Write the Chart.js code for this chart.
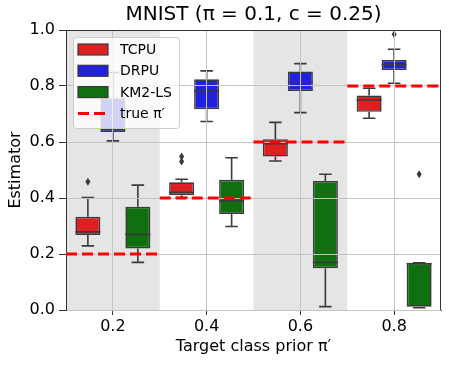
<!DOCTYPE html>
<html>
<head>
<meta charset="utf-8">
<script src="https://cdn.jsdelivr.net/npm/chart.js@4/dist/chart.umd.min.js"></script>
<style>
html,body{margin:0;padding:0;background:#fff;}
#wrap{width:449px;height:366px;}
</style>
</head>
<body>
<div id="wrap"><canvas id="c" width="449" height="366"></canvas></div>
<script>
// ---- data ----
const categories = ['0.2', '0.4', '0.6', '0.8'];
const truePrior = [0.2, 0.4, 0.6, 0.8];
const yTicks = [0.0, 0.2, 0.4, 0.6, 0.8, 1.0];
const seriesNames = ['TCPU', 'DRPU', 'KM2-LS'];

const tcpuMin = [0.229, 0.402, 0.532, 0.685];
const tcpuQ1  = [0.268, 0.410, 0.548, 0.708];
const tcpuMed = [0.279, 0.420, 0.594, 0.750];
const tcpuQ3  = [0.333, 0.456, 0.610, 0.766];
const tcpuMax = [0.402, 0.467, 0.670, 0.792];
const tcpuOut = [[0.458], [0.530, 0.548], [], []];

const drpuMin = [0.604, 0.673, 0.705, 0.810];
const drpuQ1  = [0.636, 0.717, 0.782, 0.857];
const drpuMed = [0.690, 0.782, 0.815, 0.876];
const drpuQ3  = [0.756, 0.824, 0.852, 0.893];
const drpuMax = [0.848, 0.854, 0.880, 0.931];
const drpuOut = [[], [], [], [0.985]];

const kmMin = [0.170, 0.298, 0.012, 0.008];
const kmQ1  = [0.220, 0.343, 0.149, 0.012];
const kmMed = [0.270, 0.389, 0.170, 0.165];
const kmQ3  = [0.369, 0.465, 0.461, 0.169];
const kmMax = [0.446, 0.544, 0.485, 0.169];
const kmOut = [[], [], [], [0.485]];

const shadedCategories = [0, 2];

// ---- styling ----
const FONT = "'DejaVu Sans', sans-serif";
const EDGE = '#3a3a3a';
const COLORS = ['#df2020', '#2020df', '#107010'];

const stats = [
  {min: tcpuMin, q1: tcpuQ1, med: tcpuMed, q3: tcpuQ3, max: tcpuMax, out: tcpuOut},
  {min: drpuMin, q1: drpuQ1, med: drpuMed, q3: drpuQ3, max: drpuMax, out: drpuOut},
  {min: kmMin, q1: kmQ1, med: kmMed, q3: kmQ3, max: kmMax, out: kmOut}
];

const datasets = stats.map((s, k) => ({
  label: seriesNames[k],
  data: s.q1.map((v, i) => [v, s.q3[i]]),
  backgroundColor: COLORS[k],
  borderColor: EDGE,
  borderWidth: 1.6,
  borderSkipped: false,
  categoryPercentage: 0.8,
  barPercentage: 1.0
}));

const boxPlugin = {
  id: 'boxExtras',
  beforeDatasetsDraw(chart) {
    const {ctx, chartArea: a, scales: {x}} = chart;
    const half = (x.getPixelForValue(1) - x.getPixelForValue(0)) / 2;
    ctx.save();
    ctx.fillStyle = '#e5e5e5';
    shadedCategories.forEach(i => {
      const cx = x.getPixelForValue(i);
      ctx.fillRect(cx - half, a.top, 2 * half, a.bottom - a.top);
    });
    ctx.restore();
  },
  afterDatasetsDraw(chart) {
    const {ctx, scales: {y}} = chart;
    ctx.save();
    ctx.strokeStyle = EDGE;
    ctx.lineWidth = 1.6;
    stats.forEach((s, k) => {
      const meta = chart.getDatasetMeta(k);
      meta.data.forEach((el, i) => {
        const cx = el.x, w = el.width;
        const py = v => y.getPixelForValue(v);
        ctx.beginPath();
        ctx.moveTo(cx, py(s.q3[i])); ctx.lineTo(cx, py(s.max[i]));
        ctx.moveTo(cx, py(s.q1[i])); ctx.lineTo(cx, py(s.min[i]));
        ctx.moveTo(cx - w / 4, py(s.max[i])); ctx.lineTo(cx + w / 4, py(s.max[i]));
        ctx.moveTo(cx - w / 4, py(s.min[i])); ctx.lineTo(cx + w / 4, py(s.min[i]));
        ctx.moveTo(cx - w / 2, py(s.med[i])); ctx.lineTo(cx + w / 2, py(s.med[i]));
        ctx.stroke();
        ctx.fillStyle = EDGE;
        s.out[i].forEach(v => {
          const oy = py(v);
          ctx.beginPath();
          ctx.moveTo(cx, oy - 4); ctx.lineTo(cx + 2.5, oy);
          ctx.lineTo(cx, oy + 4); ctx.lineTo(cx - 2.5, oy);
          ctx.closePath();
          ctx.fill();
        });
      });
    });
    ctx.restore();
  },
  afterDraw(chart) {
    const {ctx, chartArea: a, scales: {x, y}} = chart;
    ctx.save();
    // true prior dashed segments (above grid)
    const half = (x.getPixelForValue(1) - x.getPixelForValue(0)) / 2;
    ctx.strokeStyle = '#ff0000';
    ctx.lineWidth = 3;
    ctx.setLineDash([11, 5]);
    truePrior.forEach((v, i) => {
      const cx = x.getPixelForValue(i);
      const yy = y.getPixelForValue(v);
      ctx.beginPath();
      ctx.moveTo(cx - half, yy); ctx.lineTo(cx + half, yy);
      ctx.stroke();
    });
    ctx.setLineDash([]);
    // frame (top/right spines)
    ctx.strokeStyle = '#333';
    ctx.lineWidth = 1;
    ctx.beginPath();
    ctx.moveTo(a.left, a.top + 0.5); ctx.lineTo(a.right, a.top + 0.5);
    ctx.moveTo(a.right - 0.5, a.top); ctx.lineTo(a.right - 0.5, a.bottom);
    ctx.stroke();
    // legend
    const lx = a.left + 7, ly = a.top + 7, lw = 106, lh = 91;
    ctx.beginPath();
    ctx.roundRect(lx + 0.5, ly + 0.5, lw, lh, 3);
    ctx.fillStyle = 'rgba(255,255,255,0.8)';
    ctx.fill();
    ctx.strokeStyle = '#cccccc';
    ctx.lineWidth = 1;
    ctx.stroke();
    ctx.font = '14px ' + FONT;
    ctx.textBaseline = 'middle';
    ctx.textAlign = 'left';
    const rows = [...seriesNames, 'true \u03c0\u2032'];
    rows.forEach((t, r) => {
      const cy = ly + 12.5 + r * 21.3;
      const sx = lx + 5;
      if (r < 3) {
        ctx.fillStyle = COLORS[r];
        ctx.fillRect(sx, cy - 5.5, 30, 11);
        ctx.strokeStyle = EDGE;
        ctx.lineWidth = 1.2;
        ctx.strokeRect(sx, cy - 5.5, 30, 11);
      } else {
        ctx.strokeStyle = '#ff0000';
        ctx.lineWidth = 3;
        ctx.setLineDash([11, 5]);
        ctx.beginPath();
        ctx.moveTo(sx, cy); ctx.lineTo(sx + 30, cy);
        ctx.stroke();
        ctx.setLineDash([]);
      }
      ctx.fillStyle = '#000';
      ctx.fillText(t, lx + 47, cy + 1);
    });
    ctx.restore();
  }
};

Chart.defaults.font.family = FONT;
Chart.defaults.color = '#000';

new Chart(document.getElementById('c'), {
  type: 'bar',
  data: {labels: categories, datasets},
  options: {
    responsive: false,
    animation: false,
    devicePixelRatio: 1,
    layout: {padding: {left: 0, right: 8, top: 0, bottom: 0}},
    plugins: {
      legend: {display: false},
      tooltip: {enabled: false},
      title: {
        display: true,
        fullSize: false,
        text: 'MNIST (\u03c0 = 0.1, c = 0.25)',
        color: '#000',
        font: {size: 20, weight: 'normal', family: FONT},
        padding: {top: 3, bottom: 3}
      }
    },
    scales: {
      x: {
        type: 'category',
        offset: true,
        grid: {offset: false, color: '#c4c4c4', lineWidth: 1, z: 1, tickLength: 5, tickColor: '#333', drawTicks: true},
        border: {display: true, color: '#333', width: 1, z: 1},
        ticks: {font: {size: 16, family: FONT}, color: '#000', padding: 2},
        title: {display: true, text: 'Target class prior \u03c0\u2032', font: {size: 16, family: FONT}, color: '#000', padding: {top: 0, bottom: 10}},
        afterFit(s) { s.height = 56; }
      },
      y: {
        min: 0, max: 1,
        afterBuildTicks(s) { s.ticks = yTicks.map(v => ({value: v})); },
        grid: {color: '#c4c4c4', lineWidth: 1, z: 1, tickLength: 7, tickColor: '#333'},
        border: {display: true, color: '#333', width: 1, z: 1},
        ticks: {font: {size: 16, family: FONT}, color: '#000', padding: 4, callback: v => Number(v).toFixed(1)},
        title: {display: true, text: 'Estimator', font: {size: 16, family: FONT}, color: '#000', padding: {top: 6, bottom: 0}},
        afterFit(s) { s.width = 66; }
      }
    }
  },
  plugins: [boxPlugin]
});
</script>
</body>
</html>
